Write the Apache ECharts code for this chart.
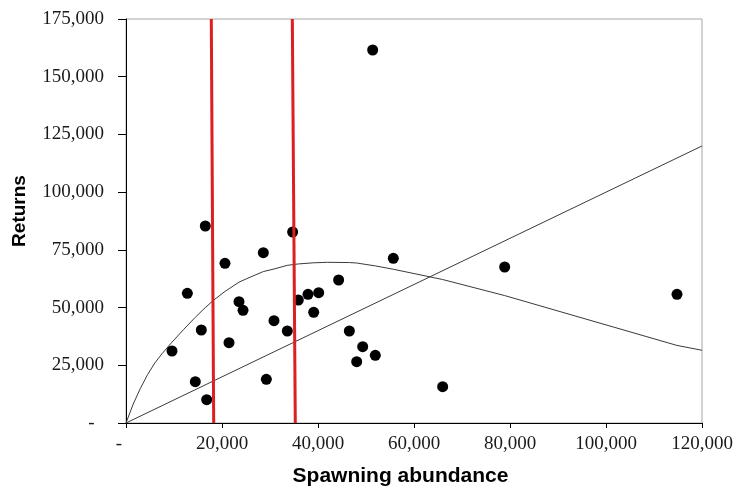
<!DOCTYPE html>
<html>
<head>
<meta charset="utf-8">
<script src="https://cdn.jsdelivr.net/npm/echarts@6/dist/echarts.min.js"></script>
<style>
html,body{margin:0;padding:0;background:#fff;}
#chart{width:736px;height:492px;}
</style>
</head>
<body>
<div id="chart"></div>
<script>
// Observed spawning abundance (x) and returns (y)
var spawners = [16520, 34720, 28610, 20620, 55690, 12780, 44300, 23540, 24380, 35900,
                37920, 40140, 39100, 15690, 30830, 33610, 21460, 9580, 46530, 49310,
                48060, 51940, 14440, 29240, 16810, 51390, 114790, 78890, 65970];
var returns  = [85330, 82730, 73760, 69170, 71330, 56170, 61940, 52550, 48810, 53280,
                55750, 56450, 47940, 40280, 44320, 39850, 34800, 31190, 39850, 33060,
                26560, 29320, 17900, 18930, 10100, 161570, 55750, 67570, 15730];

// Fitted stock-recruit curve
var curveS = [0, 1500, 3000, 4500, 6000, 7500, 9580, 12000, 14440, 16520, 18230, 20620, 23540, 25180,
              28610, 30830, 33610, 35900, 39100, 42000, 46530, 48060, 51940, 55690, 65970, 78890, 114790, 120000];
var curveR = [0, 8200, 15000, 21000, 26000, 30000, 35000, 40500, 45800, 50000, 53150, 57000, 61000, 62550,
              65600, 66700, 68300, 68900, 69400, 69600, 69500, 69300, 68050, 66600, 62150, 55200, 33600, 31500];

// Replacement line (returns = spawners)
var replS = [0, 120000];
var replR = [0, 120000];

// Vertical reference lines (top x, bottom x)
var ref1S = [17770, 18270];
var ref2S = [34650, 35270];
var refR  = [175000, 0];

var xTicks = {min: 0, max: 120000, interval: 20000};
var yTicks = {min: 0, max: 175000, interval: 25000};

function zip(a, b) { return a.map(function (v, i) { return [v, b[i]]; }); }
function fmt(pad) {
  return function (v) { return v === 0 ? '-' + pad : v.toLocaleString('en-US'); };
}

var chart = echarts.init(document.getElementById('chart'), null, {renderer: 'canvas'});
var labelFont = {fontFamily: '"Liberation Serif", "Times New Roman", serif', fontSize: 19, color: '#1a1a1a'};
var nameFont = {fontFamily: '"Liberation Sans", Arial, sans-serif', fontWeight: 'bold', color: '#000'};

chart.setOption({
  animation: false,
  backgroundColor: '#fff',
  grid: {left: 126, right: 34, top: 19, bottom: 69, show: true, borderColor: '#a6a6a6', borderWidth: 1, backgroundColor: 'transparent'},
  xAxis: {
    type: 'value', min: xTicks.min, max: xTicks.max, interval: xTicks.interval,
    name: 'Spawning abundance', nameLocation: 'middle', nameGap: 43,
    nameTextStyle: Object.assign({fontSize: 21, padding: [0, 27, 0, 0]}, nameFont),
    axisLine: {show: true, lineStyle: {color: '#000', width: 1}},
    axisTick: {show: true, inside: false, length: 5, lineStyle: {color: '#000'}},
    axisLabel: Object.assign({margin: 12, formatter: fmt('   ')}, labelFont),
    splitLine: {show: false}
  },
  yAxis: {
    type: 'value', min: yTicks.min, max: yTicks.max, interval: yTicks.interval,
    name: 'Returns', nameLocation: 'middle', nameGap: 97, nameRotate: 90,
    nameTextStyle: Object.assign({fontSize: 19, padding: [0, 0, 0, 20]}, nameFont),
    axisLine: {show: true, lineStyle: {color: '#000', width: 1}},
    axisTick: {show: true, inside: false, length: 8, lineStyle: {color: '#000'}},
    axisLabel: Object.assign({margin: 22, formatter: fmt('  ')}, labelFont),
    splitLine: {show: false}
  },
  series: [
    {type: 'line', data: zip(replS, replR), symbol: 'none', lineStyle: {color: '#3a3a3a', width: 1}, z: 2},
    {type: 'line', data: zip(curveS, curveR), symbol: 'none', smooth: false, lineStyle: {color: '#3a3a3a', width: 1}, z: 2},
    {type: 'scatter', data: zip(spawners, returns), symbol: 'circle', symbolSize: 11, itemStyle: {color: '#000', opacity: 1}, z: 3},
    {type: 'line', data: zip(ref1S, refR), symbol: 'none', lineStyle: {color: '#dc1f1f', width: 3}, z: 4},
    {type: 'line', data: zip(ref2S, refR), symbol: 'none', lineStyle: {color: '#dc1f1f', width: 3}, z: 4}
  ]
});
</script>
</body>
</html>
